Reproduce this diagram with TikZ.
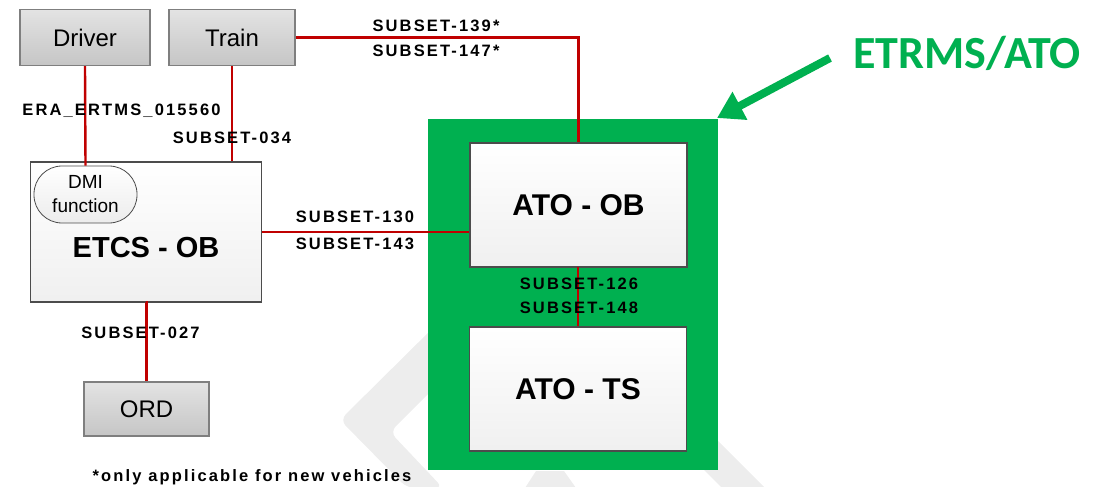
\documentclass[tikz,border=0pt]{standalone}
\usepackage{fontspec}
\setmainfont{Liberation Sans}
\newfontfamily\carlitofont{Carlito}
\usetikzlibrary{arrows.meta}
\definecolor{ertgreen}{HTML}{00B050}
\definecolor{linered}{HTML}{C00000}
\definecolor{boxborder}{HTML}{7F7F7F}
\definecolor{wmgrey}{HTML}{EDEDED}
\definecolor{lbltext}{HTML}{000000}
\tikzset{
  greybox/.style={draw=boxborder, line width=1.3pt, top color=gray!22, bottom color=gray!45,
    inner sep=0pt, font=\fontsize{24}{28}\selectfont},
  whitebox/.style={draw=gray!60!black, line width=1.3pt, top color=white, bottom color=gray!12,
    inner sep=0pt, font=\fontsize{30}{34}\selectfont\bfseries},
  pill/.style={draw=gray!60!black, line width=0.8pt, top color=white, bottom color=gray!15,
    rounded corners=28pt, inner sep=0pt, align=center, font=\fontsize{19}{24}\selectfont},
  lbl/.style={inner sep=0pt, text=lbltext, font=\fontsize{16.5}{19}\selectfont\bfseries\addfontfeature{LetterSpace=13}},
  conn/.style={draw=linered, line width=2.4pt},
  wmark/.style={fill=wmgrey}
}
\begin{document}
\begin{tikzpicture}[x=1pt,y=-1pt]
\useasboundingbox (0,0) rectangle (1104,487);
% watermark
\fill[wmark, rounded corners=8pt] (445,316) -- (340,420) -- (407,488) -- (443,488) -- (390,432) -- (445,377) -- cycle;
\fill[wmark] (525,488) -- (536,471) -- (564,471) -- (576,488) -- cycle;
\fill[wmark] (690,413) -- (765,488) -- (722,488) -- (690,456) -- cycle;
% green area
\node[fill=ertgreen, minimum width=290pt, minimum height=351pt, inner sep=0pt] (ertms) at (573,294.5) {};
% boxes
\node[greybox, minimum width=130pt, minimum height=56pt] (driver) at (85,37.5) {Driver};
\node[greybox, minimum width=126pt, minimum height=56pt] (train) at (232,37.5) {Train};
\node[greybox, minimum width=125pt, minimum height=54pt] (ord) at (146.5,409) {ORD};
\node[whitebox, minimum width=231pt, minimum height=140pt] (etcs) at (146,232) {};
\node[pill, minimum width=103pt, minimum height=57pt] (dmi) at (85.5,194.5) {DMI\\function};
\node[inner sep=0pt, font=\fontsize{29}{34}\selectfont\bfseries] (etcstext) at (146,248) {ETCS - OB};
\node[whitebox, minimum width=217pt, minimum height=124pt] (atoob) at (578.5,205) {ATO - OB};
\node[whitebox, minimum width=217pt, minimum height=124pt] (atots) at (578,389) {ATO - TS};
% connectors
\draw[conn] (driver.south) -- (dmi.north);
\draw[conn] (train.south) -- (train.south |- etcs.north);
\draw[conn] (train.east) -| (atoob.north);
\draw[conn] (etcs.east) -- (etcs.east -| atoob.west);
\draw[conn] (etcs.south) -- (etcs.south -| ord.north) -- (ord.north);
\draw[conn, line width=2pt] (atoob.south) -- (atoob.south -| atots.north) -- (atots.north);
% labels
\node[lbl] (lera) at (121.5,111) {ERA\_ERTMS\_015560};
\node[lbl] (l034) at (232,138) {SUBSET-034};
\node[lbl] (l139) at (436,26) {SUBSET-139*};
\node[lbl] (l147) at (436,51) {SUBSET-147*};
\node[lbl] (l130) at (355,217) {SUBSET-130};
\node[lbl] (l143) at (355,244) {SUBSET-143};
\node[lbl] (l126) at (579,284) {SUBSET-126};
\node[lbl] (l148) at (579,308) {SUBSET-148};
\node[lbl] (l027) at (140.5,333) {SUBSET-027};
\node[lbl] (lfoot) at (252,477) {*only applicable for new vehicles};
% ETRMS/ATO callout
\node[inner sep=0pt, text=ertgreen, font=\carlitofont\fontsize{46}{50}\selectfont\bfseries] (title) at (967,53) {ETRMS/ATO};
\coordinate (tip) at (717,118);
\coordinate (tail) at (830,58);
\draw[draw=ertgreen, line width=8pt, -{Triangle[length=26pt, width=30pt]}] (tail) -- (tip);
\end{tikzpicture}
\end{document}
